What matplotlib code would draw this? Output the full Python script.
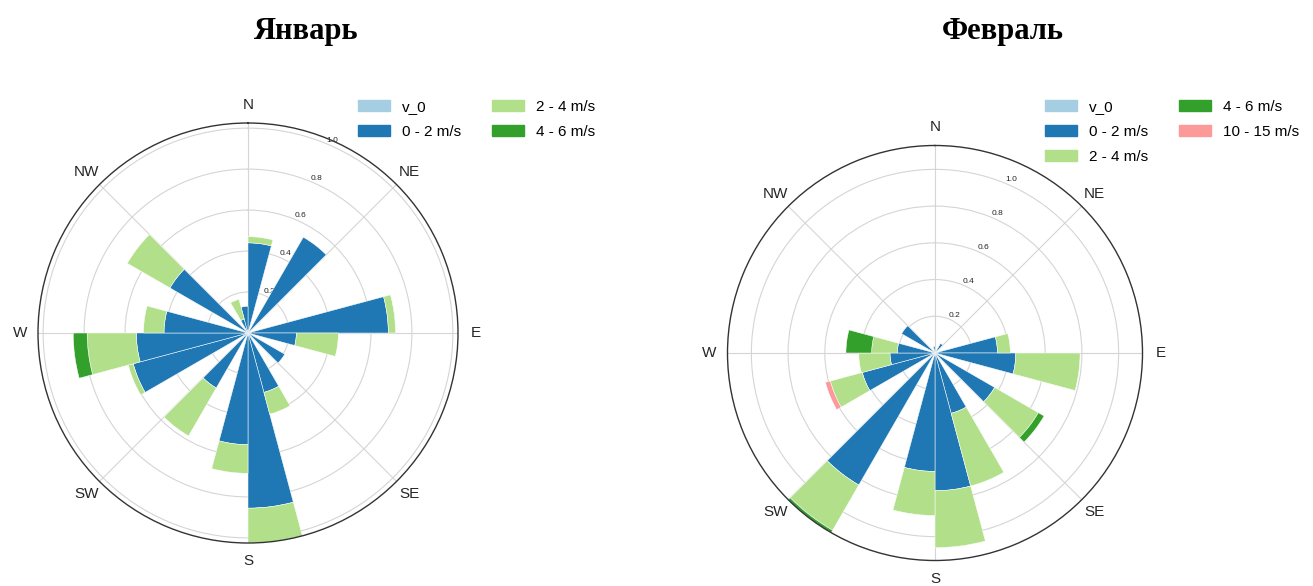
import numpy as np
import matplotlib
matplotlib.use("Agg")
import matplotlib.pyplot as plt

# Sector start directions (degrees, clockwise from north), 15-degree sectors
jan_dirs = [0, 30, 75, 90, 120, 150, 165, 180, 210, 240, 255, 270, 300, 330, 345]
jan_v0 = [0, 0, 0, 0, 0, 0, 0, 0, 0, 0, 0, 0, 0, 0, 0]
jan_0_2 = [0.44, 0.54, 0.685, 0.236, 0.207, 0.30, 0.855, 0.545, 0.31, 0.58, 0.545, 0.41, 0.44, 0.07, 0.13]
jan_2_4 = [0.03, 0.0, 0.035, 0.205, 0.0, 0.11, 0.17, 0.14, 0.27, 0.025, 0.24, 0.10, 0.24, 0.10, 0.0]
jan_4_6 = [0, 0, 0, 0, 0, 0, 0, 0, 0, 0, 0.068, 0, 0, 0, 0]

feb_dirs = [30, 75, 90, 120, 150, 165, 180, 210, 240, 255, 270, 300, 345]
feb_v0 = [0, 0, 0, 0, 0, 0, 0, 0, 0, 0, 0, 0, 0]
feb_0_2 = [0.06, 0.34, 0.44, 0.375, 0.34, 0.75, 0.645, 0.83, 0.41, 0.245, 0.205, 0.21, 0.035]
feb_2_4 = [0.0, 0.07, 0.35, 0.275, 0.41, 0.31, 0.24, 0.285, 0.18, 0.17, 0.14, 0.0, 0.0]
feb_4_6 = [0, 0, 0, 0.036, 0, 0, 0, 0.015, 0, 0, 0.14, 0, 0]
feb_10_15 = [0, 0, 0, 0, 0, 0, 0, 0, 0.028, 0, 0, 0, 0]

sector_width = 15  # degrees
compass_labels = ["N", "NE", "E", "SE", "S", "SW", "W", "NW"]
radial_ticks = [0.2, 0.4, 0.6, 0.8, 1.0]

paired = plt.get_cmap("Paired").colors
bin_colors = {
    "v_0": paired[0],
    "0 - 2 m/s": paired[1],
    "2 - 4 m/s": paired[2],
    "4 - 6 m/s": paired[3],
    "10 - 15 m/s": paired[4],
}

plt.rcParams["font.family"] = ["Liberation Sans", "DejaVu Sans"]
text_col = "#262626"

fig = plt.figure(figsize=(13.13, 5.86), dpi=100)
W, H = 1313, 586


def add_polar(cx, cy, r):
    return fig.add_axes([(cx - r) / W, 1 - (cy + r) / H, 2 * r / W, 2 * r / H],
                        projection="polar")


def rose(ax, dirs, bins):
    theta = np.radians(np.array(dirs, dtype=float))
    width = np.radians(sector_width)
    bottom = np.zeros(len(dirs))
    handles = []
    for label, vals in bins:
        vals = np.array(vals, dtype=float)
        mask = vals > 0
        ax.bar(theta[mask], vals[mask], width=width, bottom=bottom[mask],
               align="edge", color=bin_colors[label], edgecolor="white",
               linewidth=0.35, zorder=2)
        handles.append(plt.Rectangle((0, 0), 1, 1, color=bin_colors[label], label=label))
        bottom = bottom + vals
    rmax = bottom.max()
    ax.set_theta_zero_location("N")
    ax.set_theta_direction(-1)
    ax.set_ylim(0, rmax)
    ax.set_thetagrids(np.arange(0, 360, 45), compass_labels)
    ax.set_rgrids(radial_ticks, [f"{t:.1f}" for t in radial_ticks], angle=22.5)
    ax.tick_params(axis="x", labelsize=11, colors=text_col, pad=2.5)
    ax.tick_params(axis="y", labelsize=6, colors=text_col)
    ax.grid(True, color="#d5d5d5", linewidth=0.8)
    ax.set_axisbelow(True)
    ax.spines["polar"].set_color("#333333")
    ax.spines["polar"].set_linewidth(1.0)
    return handles


ax1 = add_polar(248, 333, 210)
h1 = rose(ax1, jan_dirs, [("v_0", jan_v0), ("0 - 2 m/s", jan_0_2),
                          ("2 - 4 m/s", jan_2_4), ("4 - 6 m/s", jan_4_6)])

ax2 = add_polar(935, 353, 207.5)
h2 = rose(ax2, feb_dirs, [("v_0", feb_v0), ("0 - 2 m/s", feb_0_2),
                          ("2 - 4 m/s", feb_2_4), ("4 - 6 m/s", feb_4_6),
                          ("10 - 15 m/s", feb_10_15)])

leg_kw = dict(loc="upper left", ncol=2, frameon=False, fontsize=11,
              handlelength=2.1, handleheight=0.7, handletextpad=0.8,
              columnspacing=2.0, labelspacing=0.72, borderpad=0, borderaxespad=0)
fig.legend(handles=h1, bbox_to_anchor=(358 / W, 1 - 100 / H), **leg_kw)
fig.legend(handles=h2, bbox_to_anchor=(1045 / W, 1 - 100 / H), **leg_kw)

title_kw = dict(ha="center", va="baseline", fontsize=22, fontweight="bold",
                family=["Liberation Serif", "DejaVu Serif"], color="black")
fig.text(306 / W, 1 - 39 / H, "Январь", **title_kw)
fig.text(1003 / W, 1 - 39 / H, "Февраль", **title_kw)

fig.savefig("out.png", dpi=100, facecolor="white")
